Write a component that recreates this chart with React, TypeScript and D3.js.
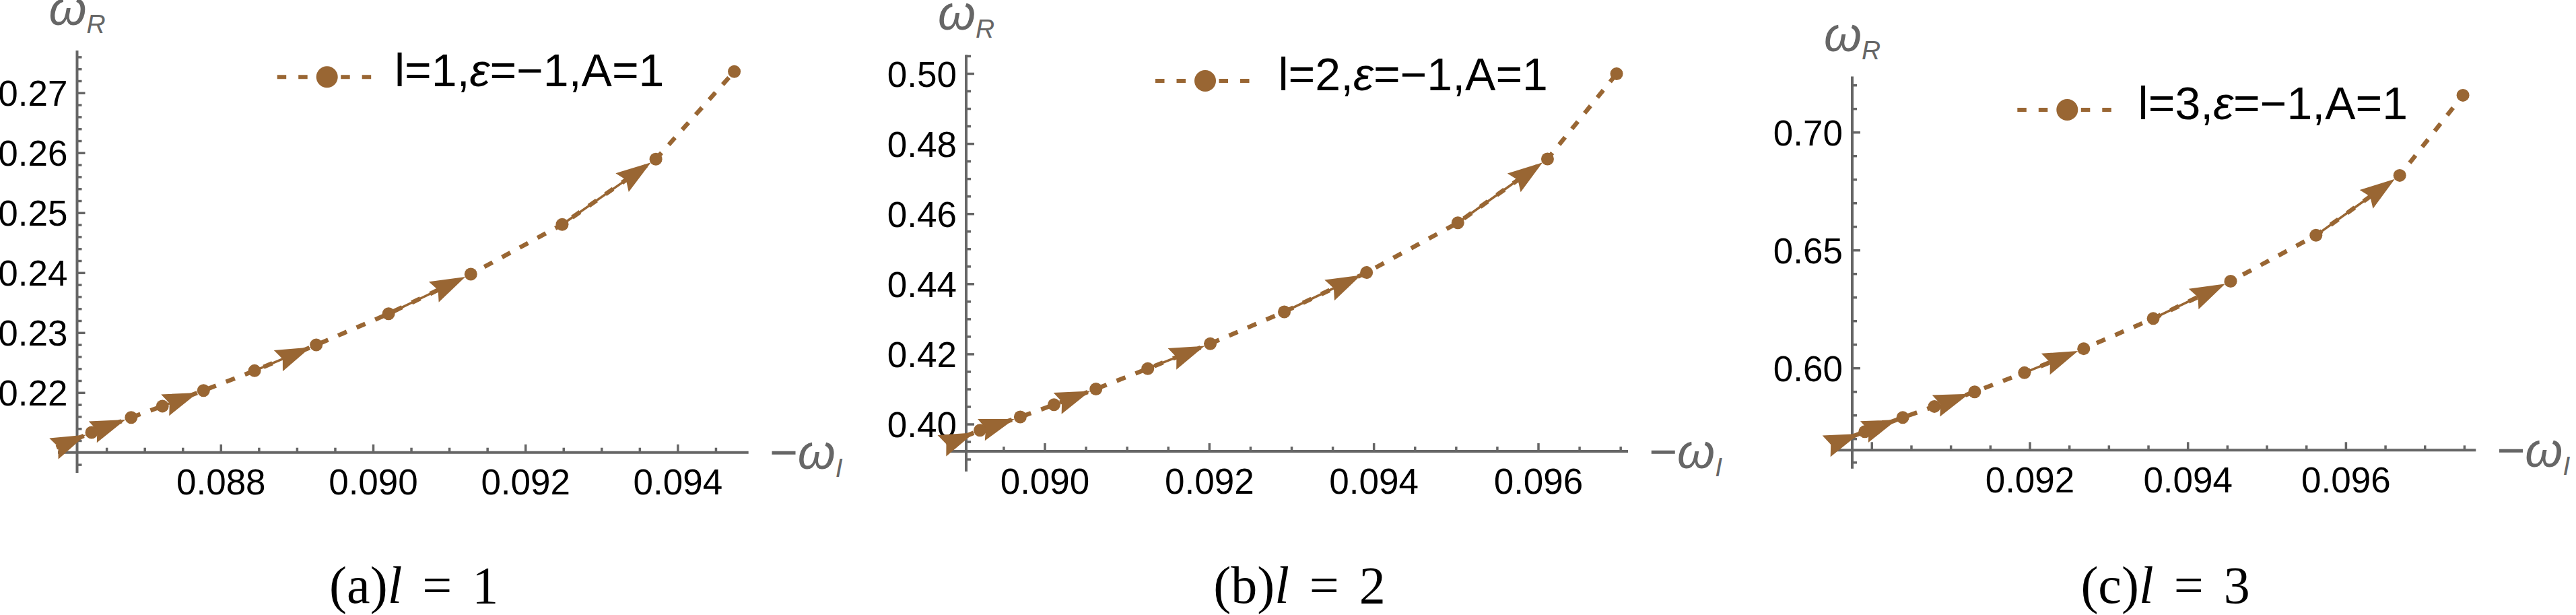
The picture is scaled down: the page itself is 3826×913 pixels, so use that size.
import React, { useEffect } from "react";
import * as d3 from "d3";

const W = 3826;
const H = 913;
const BROWN = "#996633";
const AXIS = "#666666";

// ---- data: (-omega_I, omega_R) for each l ----
const L1_X = [0.08584, 0.0863, 0.08682, 0.08723, 0.08777, 0.08844, 0.08925, 0.0902, 0.09128, 0.09248, 0.09371, 0.09474];
const L1_Y = [0.2109, 0.2134, 0.2159, 0.2178, 0.2204, 0.2237, 0.228, 0.2332, 0.2398, 0.2481, 0.259, 0.2736];

const L2_X = [0.0888, 0.08921, 0.0897, 0.09011, 0.09062, 0.09125, 0.09201, 0.09291, 0.09391, 0.09502, 0.09611, 0.09695];
const L2_Y = [0.3944, 0.3983, 0.4021, 0.4056, 0.4101, 0.4159, 0.423, 0.4321, 0.4433, 0.4575, 0.4757, 0.5];

const L3_X = [0.0895, 0.08991, 0.09039, 0.09079, 0.0913, 0.09193, 0.09268, 0.09356, 0.09454, 0.09562, 0.09668, 0.09748];
const L3_Y = [0.5679, 0.5731, 0.5791, 0.5838, 0.59, 0.5981, 0.6083, 0.6211, 0.6369, 0.6564, 0.6818, 0.7158];

// ---- ticks ----
const X_MAJOR_1 = [0.088, 0.09, 0.092, 0.094];
const X_LABEL_1 = [0.088, 0.09, 0.092, 0.094];
const Y_MAJOR_1 = [0.22, 0.23, 0.24, 0.25, 0.26, 0.27];
const X_MAJOR_2 = [0.09, 0.092, 0.094, 0.096];
const X_LABEL_2 = [0.09, 0.092, 0.094, 0.096];
const Y_MAJOR_2 = [0.4, 0.42, 0.44, 0.46, 0.48, 0.5];
const X_MAJOR_3 = [0.09, 0.092, 0.094, 0.096];
const X_LABEL_3 = [0.092, 0.094, 0.096];
const Y_MAJOR_3 = [0.6, 0.65, 0.7];

const L_VALUES = ["1", "2", "3"];
const CAPTION_LETTERS = ["a", "b", "c"];
// segments (index pairs) that carry an arrow
const ARROW_SEGMENTS = [[0, 1], [1, 2], [3, 4], [5, 6], [7, 8], [9, 10]];

// ---- layout (pixels) ----
const LAYOUT = [
  {
    xRef: [0.088, 0.094], xPx: [328.3, 1006.9],
    yRef: [0.22, 0.27], yPx: [583.3, 138.3],
    yAxisX: 114.5, xAxisY: 671.7, xAxisRight: 1111.7, yAxisTop: 75, yAxisBottom: 702,
    xMinor: 0.0005, yMinor: 0.002, yFmt: ".2f",
    legend: { mx: 485.7, my: 114.3, tx: 586, ty: 128.3 },
    capX: 614.7,
  },
  {
    xRef: [0.09, 0.096], xPx: [1552, 2285],
    yRef: [0.4, 0.5], yPx: [630, 109.5],
    yAxisX: 1435, xAxisY: 670, xAxisRight: 2418, yAxisTop: 81.5, yAxisBottom: 700,
    xMinor: 0.0005, yMinor: 0.005, yFmt: ".2f",
    legend: { mx: 1790, my: 120, tx: 1898.5, ty: 134 },
    capX: 1930,
  },
  {
    xRef: [0.092, 0.096], xPx: [3015, 3484.4],
    yRef: [0.6, 0.7], yPx: [546.7, 196.7],
    yAxisX: 2751, xAxisY: 668.3, xAxisRight: 3677.3, yAxisTop: 113.5, yAxisBottom: 695.8,
    xMinor: 0.0005, yMinor: 0.01, yFmt: ".2f",
    legend: { mx: 3070.3, my: 163, tx: 3175.6, ty: 177 },
    capX: 3216,
  },
];

const SANS = "'Liberation Sans', Arial, Helvetica, sans-serif";
const SERIF = "'Liberation Serif', 'Times New Roman', serif";

function stepTicks(lo: number, hi: number, step: number) {
  const a = Math.ceil(lo / step - 1e-9);
  const b = Math.floor(hi / step + 1e-9);
  return d3.range(a, b + 1).map((k) => +(k * step).toFixed(6));
}

function arrowHead(p0: number[], p1: number[]) {
  const dx = p1[0] - p0[0];
  const dy = p1[1] - p0[1];
  const len = Math.hypot(dx, dy);
  const ux = dx / len, uy = dy / len;
  const nx = -uy, ny = ux;
  const tip = [p1[0] - 9 * ux, p1[1] - 9 * uy];
  const base = [tip[0] - 52 * ux, tip[1] - 52 * uy];
  const notch = [tip[0] - 45 * ux, tip[1] - 45 * uy];
  const hw = 17;
  const poly = [
    tip,
    [base[0] + hw * nx, base[1] + hw * ny],
    notch,
    [base[0] - hw * nx, base[1] - hw * ny],
  ];
  return { poly: poly.map((p) => p.join(",")).join(" "), notch };
}

function Panel({ idx, xs, ys, xMajor, xLabel, yMajor }: any) {
  const L = LAYOUT[idx];
  const x = d3.scaleLinear().domain(L.xRef).range(L.xPx);
  const y = d3.scaleLinear().domain(L.yRef).range(L.yPx);
  const pts = xs.map((v: number, i: number) => [x(v), y(ys[i])]);
  const path = d3.line()(pts as [number, number][]) || "";
  const fx = d3.format(".3f");
  const fy = d3.format(L.yFmt);

  const xLo = x.invert(L.yAxisX);
  const xHi = x.invert(L.xAxisRight);
  const isMajor = (v: number, arr: number[]) => arr.some((m) => Math.abs(m - v) < 1e-7);
  const xMinorT = stepTicks(xLo, xHi, L.xMinor).filter((v) => !isMajor(v, xMajor) && x(v) > L.yAxisX + 3);
  const yLo = y.invert(L.yAxisBottom);
  const yHi = y.invert(L.yAxisTop);
  const yMinorT = stepTicks(yLo, yHi, L.yMinor).filter(
    (v) => !isMajor(v, yMajor) && Math.abs(y(v) - L.xAxisY) > 3
  );

  const lg = L.legend;

  return (
    <g>
      {/* axes */}
      <g stroke={AXIS} strokeWidth={4} fill="none">
        <line x1={pts[0][0] + 2} x2={L.xAxisRight} y1={L.xAxisY} y2={L.xAxisY} />
        <line x1={L.yAxisX} x2={L.yAxisX} y1={L.yAxisTop} y2={L.yAxisBottom} />
        {xMajor.map((v: number) => (
          <line key={"xM" + v} x1={x(v)} x2={x(v)} y1={L.xAxisY} y2={L.xAxisY - 12} strokeWidth={3.5} />
        ))}
        {xMinorT.map((v) => (
          <line key={"xm" + v} x1={x(v)} x2={x(v)} y1={L.xAxisY} y2={L.xAxisY - 7} strokeWidth={3.5} />
        ))}
        {yMajor.map((v: number) => (
          <line key={"yM" + v} x1={L.yAxisX} x2={L.yAxisX + 12} y1={y(v)} y2={y(v)} strokeWidth={3.5} />
        ))}
        {yMinorT.map((v) => (
          <line key={"ym" + v} x1={L.yAxisX} x2={L.yAxisX + 7} y1={y(v)} y2={y(v)} strokeWidth={3.5} />
        ))}
      </g>
      {/* tick labels */}
      <g fontFamily={SANS} fontSize={53} fill="#000">
        {xLabel.map((v: number) => (
          <text key={"xl" + v} x={x(v)} y={L.xAxisY + 62.5} textAnchor="middle">
            {fx(v)}
          </text>
        ))}
        {yMajor.map((v: number) => (
          <text key={"yl" + v} x={L.yAxisX - 14} y={y(v) + 19} textAnchor="end">
            {fy(v)}
          </text>
        ))}
      </g>
      {/* axis labels */}
      <text x={L.yAxisX} y={L.yAxisTop - 38} textAnchor="middle" fontFamily={SANS} fontSize={72} fill={AXIS}>
        <tspan fontStyle="italic">ω</tspan>
        <tspan fontStyle="italic" fontSize={39} dy={12}>R</tspan>
      </text>
      <text x={L.xAxisRight + 31} y={L.xAxisY + 24.5} fontFamily={SANS} fontSize={72} fill={AXIS}>
        <tspan>{"\u2212"}</tspan>
        <tspan fontStyle="italic">ω</tspan>
        <tspan fontStyle="italic" fontSize={39} dy={12}>I</tspan>
      </text>
      {/* data: dashed line */}
      <path d={path} fill="none" stroke={BROWN} strokeWidth={6.5} strokeDasharray="14 16" />
      {/* arrows */}
      {ARROW_SEGMENTS.map(([a, b]) => {
        const ah = arrowHead(pts[a], pts[b]);
        return (
          <g key={"ar" + a}>
            <line x1={pts[a][0]} y1={pts[a][1]} x2={ah.notch[0]} y2={ah.notch[1]} stroke={BROWN} strokeWidth={3.5} />
            <polygon points={ah.poly} fill={BROWN} />
          </g>
        );
      })}
      {/* markers */}
      {pts.slice(1).map((p: number[], i: number) => (
        <circle key={"pt" + i} cx={p[0]} cy={p[1]} r={9.5} fill={BROWN} />
      ))}
      {/* legend */}
      <line
        x1={lg.mx - 74}
        x2={lg.mx + 66}
        y1={lg.my}
        y2={lg.my}
        stroke={BROWN}
        strokeWidth={6}
        strokeDasharray="13.5 18"
      />
      <circle cx={lg.mx} cy={lg.my} r={16} fill={BROWN} />
      <text x={lg.tx} y={lg.ty} fontFamily={SANS} fontSize={68} fill="#000">
        <tspan>{"l=" + L_VALUES[idx] + ","}</tspan>
        <tspan fontStyle="italic">ε</tspan>
        <tspan>{"=\u22121,A=1"}</tspan>
      </text>
      {/* caption */}
      <text x={L.capX} y={895} textAnchor="middle" fontFamily={SERIF} fontSize={78} fill="#000">
        <tspan>{"(" + CAPTION_LETTERS[idx] + ")"}</tspan>
        <tspan fontStyle="italic">l</tspan>
        <tspan dx={30}>=</tspan>
        <tspan dx={30}>{L_VALUES[idx]}</tspan>
      </text>
    </g>
  );
}

export default function App() {
  useEffect(() => {
    document.body.style.margin = "0";
    document.body.style.overflow = "hidden";
  }, []);
  return (
    <div style={{ position: "absolute", left: 0, top: 0 }}>
      <svg width={W} height={H} viewBox={`0 0 ${W} ${H}`} style={{ display: "block", background: "#fff" }}>
        <rect x={0} y={0} width={W} height={H} fill="#fff" />
        <Panel idx={0} xs={L1_X} ys={L1_Y} xMajor={X_MAJOR_1} xLabel={X_LABEL_1} yMajor={Y_MAJOR_1} />
        <Panel idx={1} xs={L2_X} ys={L2_Y} xMajor={X_MAJOR_2} xLabel={X_LABEL_2} yMajor={Y_MAJOR_2} />
        <Panel idx={2} xs={L3_X} ys={L3_Y} xMajor={X_MAJOR_3} xLabel={X_LABEL_3} yMajor={Y_MAJOR_3} />
      </svg>
    </div>
  );
}
